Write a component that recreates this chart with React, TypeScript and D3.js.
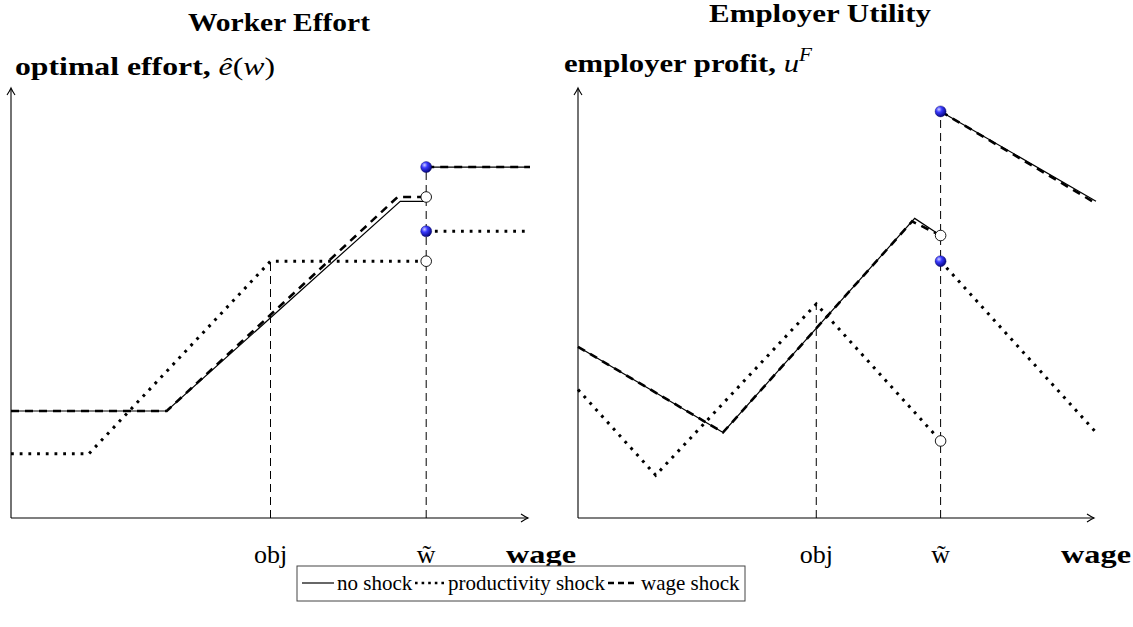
import React from 'react';
import * as d3 from 'd3';

// ---------- data (wage units on x, outcome units on y) ----------
const titles = ['Worker Effort', 'Employer Utility'];
const legendLabels = ['no shock', 'productivity shock', 'wage shock'];
const tickLabels = ['obj', 'w\u0303'];
const axisName = 'wage';

// Left panel: optimal effort
const leftObj = 5;
const leftWTilde = 8;
const effortNoShockLow: [number, number][] = [[0, 2.5], [3, 2.5], [7.5, 7.4], [8, 7.4]];
const effortNoShockHigh: [number, number][] = [[8, 8.2], [10, 8.2]];
const effortProdLow: [number, number][] = [[0, 1.5], [1.5, 1.5], [5, 6.0], [8, 6.0]];
const effortProdHigh: [number, number][] = [[8, 6.7], [10, 6.7]];
const effortWageLow: [number, number][] = [[0, 2.5], [3, 2.5], [7.45, 7.5], [8, 7.5]];
const effortWageHigh: [number, number][] = [[8, 8.2], [10, 8.2]];
const effortFilled = [8.2, 6.7];
const effortOpen = [7.5, 6.0];

// Right panel: employer profit
const rightObj = 4.6;
const rightWTilde = 7;
const profitNoShockLow: [number, number][] = [[0, 4.0], [2.8, 2.0], [6.5, 7.0], [7, 6.6]];
const profitNoShockHigh: [number, number][] = [[7, 9.5], [10, 7.4]];
const profitProdLow: [number, number][] = [[0, 3.0], [1.5, 1.0], [4.6, 5.0], [7, 1.8]];
const profitProdHigh: [number, number][] = [[7, 6.0], [10, 2.0]];
const profitWageLow: [number, number][] = [[0, 4.0], [2.8, 2.0], [6.45, 6.93], [7, 6.6]];
const profitWageHigh: [number, number][] = [[7, 9.5], [10, 7.35]];
const profitFilled = [9.5, 6.0];
const profitOpen = [6.6, 1.8];

const W = 1133;
const H = 627;
const serif = "'Liberation Serif', 'DejaVu Serif', serif";

const STYLE = {
  solid: { stroke: '#000', strokeWidth: 1.2, dash: undefined as string | undefined },
  dotted: { stroke: '#000', strokeWidth: 3, dash: '2.8 5.9' },
  dashed: { stroke: '#000', strokeWidth: 2.6, dash: '8 6' },
};

function Arrow({ x, y, dir }: { x: number; y: number; dir: 'up' | 'right' }) {
  const d =
    dir === 'right'
      ? `M${x - 7},${y - 4} Q${x - 2.5},${y - 1} ${x},${y} Q${x - 2.5},${y + 1} ${x - 7},${y + 4}`
      : `M${x - 4},${y + 7} Q${x - 1},${y + 2.5} ${x},${y} Q${x + 1},${y + 2.5} ${x + 4},${y + 7}`;
  return <path d={d} fill="none" stroke="#000" strokeWidth={1.1} />;
}

function Panel({
  x0, x1, yBottom, yTop, obj, wt, objTop, series, filled, open,
}: {
  x0: number; x1: number; yBottom: number; yTop: number; obj: number; wt: number; objTop: number;
  series: { pts: [number, number][]; style: keyof typeof STYLE }[];
  filled: number[]; open: number[];
}) {
  const x = d3.scaleLinear().domain([0, 10]).range([x0, x1]);
  const y = d3.scaleLinear().domain([0, 10]).range([yBottom, yTop]);
  const line = d3.line<[number, number]>().x((d) => x(d[0])).y((d) => y(d[1]));
  const topWt = d3.max(filled) as number;
  return (
    <g>
      {series.map((s, i) => {
        const st = STYLE[s.style];
        return (
          <path key={i} d={line(s.pts) || ''} fill="none" stroke={st.stroke}
            strokeWidth={st.strokeWidth} strokeDasharray={st.dash} strokeLinejoin="miter" />
        );
      })}
      <line x1={x(obj)} x2={x(obj)} y1={yBottom} y2={y(objTop)} stroke="#000" strokeWidth={1} strokeDasharray="8 5" />
      <line x1={x(wt)} x2={x(wt)} y1={yBottom} y2={y(topWt)} stroke="#000" strokeWidth={1} strokeDasharray="8 5" />
      {/* axes */}
      <line x1={x0} x2={x0} y1={yBottom} y2={yTop - 1} stroke="#000" strokeWidth={1.1} />
      <Arrow x={x0} y={yTop - 2} dir="up" />
      <line x1={x0} x2={x1 - 2} y1={yBottom} y2={yBottom} stroke="#000" strokeWidth={1.1} />
      <Arrow x={x1 - 2} y={yBottom} dir="right" />
      {open.map((v, i) => (
        <circle key={'o' + i} cx={x(wt)} cy={y(v)} r={5.3} fill="#fff" stroke="#000" strokeWidth={0.9} />
      ))}
      {filled.map((v, i) => (
        <circle key={'f' + i} cx={x(wt)} cy={y(v)} r={5.5} fill="url(#ball)" stroke="#00005a" strokeWidth={0.4} />
      ))}
      {/* tick labels */}
      <text x={x(obj)} y={563} fontFamily={serif} fontSize={26} textAnchor="middle">{tickLabels[0]}</text>
      <text x={x(wt)} y={563} fontFamily={serif} fontSize={26} textAnchor="middle">{tickLabels[1]}</text>
    </g>
  );
}

export default function App() {
  return (
    <svg width={W} height={H} viewBox={`0 0 ${W} ${H}`}
      style={{ position: 'absolute', left: 0, top: 0, background: '#fff' }}>
      <defs>
        <radialGradient id="ball" cx="0.35" cy="0.32" r="0.75">
          <stop offset="0%" stopColor="#d0d0ff" />
          <stop offset="35%" stopColor="#3a3aff" />
          <stop offset="100%" stopColor="#000070" />
        </radialGradient>
      </defs>
      <rect width={W} height={H} fill="#fff" />

      {/* titles */}
      <text x={279} y={31} fontFamily={serif} fontWeight="bold" fontSize={25} textAnchor="middle"
        textLength={182} lengthAdjust="spacingAndGlyphs">{titles[0]}</text>
      <text x={820} y={22} fontFamily={serif} fontWeight="bold" fontSize={25} textAnchor="middle"
        textLength={222} lengthAdjust="spacingAndGlyphs">{titles[1]}</text>

      {/* y labels */}
      <text x={15} y={75} fontFamily={serif} fontSize={26} textLength={260} lengthAdjust="spacingAndGlyphs">
        <tspan fontWeight="bold">optimal effort, </tspan>
        <tspan fontStyle="italic">ê</tspan>
        <tspan>(</tspan>
        <tspan fontStyle="italic">w</tspan>
        <tspan>)</tspan>
      </text>
      <text x={564} y={72} fontFamily={serif} fontSize={26} textLength={248} lengthAdjust="spacingAndGlyphs">
        <tspan fontWeight="bold">employer profit, </tspan>
        <tspan fontStyle="italic">u</tspan>
        <tspan fontStyle="italic" fontSize={18} dy={-11}>F</tspan>
      </text>

      <Panel x0={11} x1={530} yBottom={518} yTop={90} obj={leftObj} wt={leftWTilde} objTop={6.0}
        series={[
          { pts: effortNoShockLow, style: 'solid' },
          { pts: effortNoShockHigh, style: 'solid' },
          { pts: effortProdLow, style: 'dotted' },
          { pts: effortProdHigh, style: 'dotted' },
          { pts: effortWageLow, style: 'dashed' },
          { pts: effortWageHigh, style: 'dashed' },
        ]}
        filled={effortFilled} open={effortOpen} />
      <Panel x0={578} x1={1096} yBottom={518} yTop={90} obj={rightObj} wt={rightWTilde} objTop={5.0}
        series={[
          { pts: profitNoShockLow, style: 'solid' },
          { pts: profitNoShockHigh, style: 'solid' },
          { pts: profitProdLow, style: 'dotted' },
          { pts: profitProdHigh, style: 'dotted' },
          { pts: profitWageLow, style: 'dashed' },
          { pts: profitWageHigh, style: 'dashed' },
        ]}
        filled={profitFilled} open={profitOpen} />

      {/* x axis names */}
      <text x={541} y={563} fontFamily={serif} fontWeight="bold" fontSize={26} textAnchor="middle"
        textLength={70} lengthAdjust="spacingAndGlyphs">{axisName}</text>
      <text x={1096} y={563} fontFamily={serif} fontWeight="bold" fontSize={26} textAnchor="middle"
        textLength={70} lengthAdjust="spacingAndGlyphs">{axisName}</text>

      {/* legend */}
      <rect x={297} y={566} width={448} height={35} fill="#fff" stroke="#444" strokeWidth={1} />
      <line x1={302} x2={334} y1={583} y2={583} stroke="#000" strokeWidth={1.2} />
      <text x={337} y={590} fontFamily={serif} fontSize={21}>{legendLabels[0]}</text>
      <line x1={415} x2={445} y1={583} y2={583} stroke="#000" strokeWidth={2.6} strokeDasharray="2.6 4" />
      <text x={448} y={590} fontFamily={serif} fontSize={21}>{legendLabels[1]}</text>
      <line x1={608} x2={638} y1={583} y2={583} stroke="#000" strokeWidth={2.6} strokeDasharray="6 4" />
      <text x={641} y={590} fontFamily={serif} fontSize={21}>{legendLabels[2]}</text>
    </svg>
  );
}
